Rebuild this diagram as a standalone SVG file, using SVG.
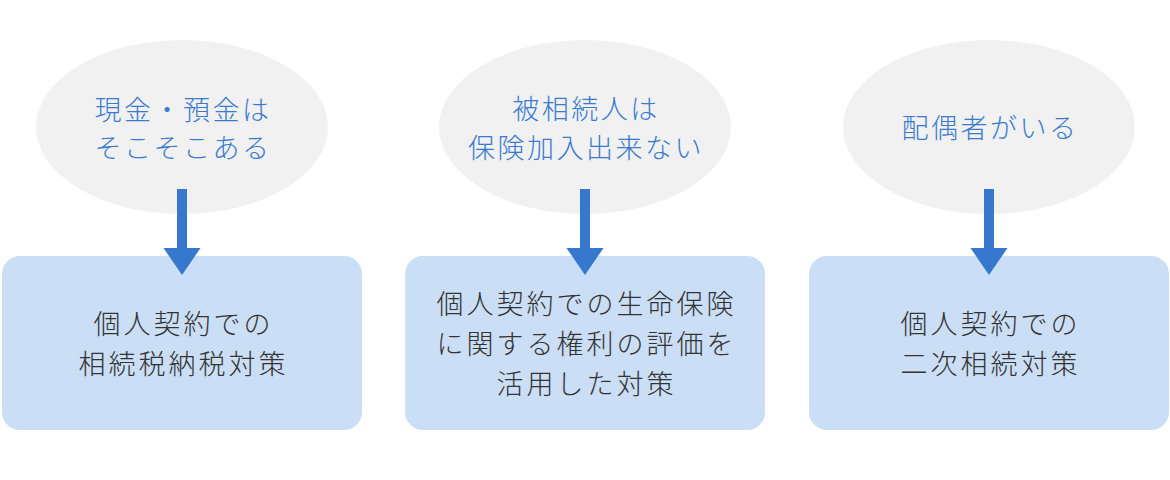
<svg xmlns="http://www.w3.org/2000/svg" width="1170" height="480" viewBox="0 0 1170 480">
<style>
.ell{fill:#f1f1f1}
.box{fill:#cadef6}
.et{font-family:"Noto Sans CJK JP","Noto Sans",sans-serif;font-size:27px;font-weight:300;letter-spacing:2.5px;fill:#3a7bd0;text-anchor:middle}
.bt{font-family:"Noto Sans CJK JP","Noto Sans",sans-serif;font-size:27px;font-weight:300;letter-spacing:3px;fill:#333333;text-anchor:middle}
.shaft{fill:#3578cd}
</style>
<rect width="1170" height="480" fill="#ffffff"/>
<g id="cond1">
<ellipse class="ell" cx="182" cy="127" rx="146" ry="87"/>
<text class="et" x="183" y="120">現金・預金は</text>
<text class="et" x="183" y="158">そこそこある</text>
</g>
<g id="cond2">
<ellipse class="ell" cx="585" cy="127" rx="146" ry="87"/>
<text class="et" x="586" y="119">被相続人は</text>
<text class="et" x="586" y="158">保険加入出来ない</text>
</g>
<g id="cond3">
<ellipse class="ell" cx="989" cy="127" rx="146" ry="87"/>
<text class="et" x="990" y="138">配偶者がいる</text>
</g>
<g id="plan1">
<rect class="box" x="2" y="256" width="360" height="174" rx="18"/>
<text class="bt" x="183.5" y="334">個人契約での</text>
<text class="bt" x="183.5" y="374">相続税納税対策</text>
</g>
<g id="plan2">
<rect class="box" x="405" y="256" width="360" height="174" rx="18"/>
<text class="bt" x="586.5" y="314">個人契約での生命保険</text>
<text class="bt" x="586.5" y="354">に関する権利の評価を</text>
<text class="bt" x="586.5" y="394">活用した対策</text>
</g>
<g id="plan3">
<rect class="box" x="809" y="256" width="360" height="174" rx="18"/>
<text class="bt" x="990.5" y="334">個人契約での</text>
<text class="bt" x="990.5" y="374">二次相続対策</text>
</g>
<g id="connectors">
<path class="shaft" d="M177 189 H187 V248 H200.5 L182 275 L163.5 248 H177 Z"/>
<path class="shaft" d="M580 189 H590 V248 H603.5 L585 275 L566.5 248 H580 Z"/>
<path class="shaft" d="M984 189 H994 V248 H1007.5 L989 275 L970.5 248 H984 Z"/>
</g>
</svg>
